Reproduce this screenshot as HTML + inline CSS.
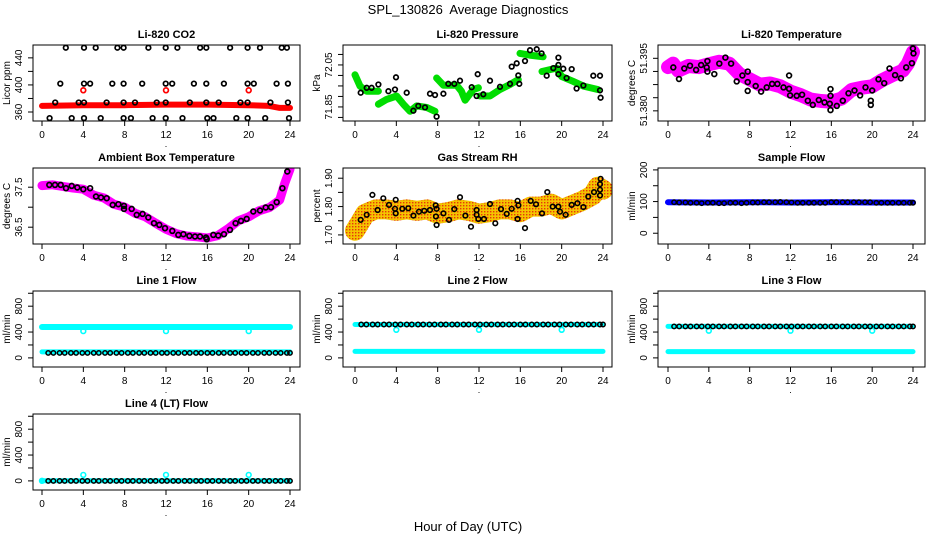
<!DOCTYPE html>
<html><head><meta charset="utf-8"><title>SPL_130826 Average Diagnostics</title>
<style>
html,body{margin:0;padding:0;background:#fff;}
svg{display:block;font-family:"Liberation Sans",Arial,sans-serif;}
</style></head>
<body>
<svg id="chart" width="936" height="540" viewBox="0 0 936 540" xmlns="http://www.w3.org/2000/svg">
<defs>
<pattern id="rhpat" width="3" height="3" patternUnits="userSpaceOnUse"><rect width="3" height="3" fill="#f4c400"/><rect x="1" y="1" width="1.4" height="1.4" fill="#e8360a"/></pattern>
</defs>
<text x="468" y="14" text-anchor="middle" font-size="13">SPL_130826&#160; Average Diagnostics</text>
<text x="468" y="531" text-anchor="middle" font-size="13">Hour of Day (UTC)</text>
<g id="panels"></g>
</svg>
<script>
// ---------- DATA ----------
const xTicks = [0,4,8,12,16,20,24];
const periodHours = [0.6,1.1,1.7,2.2,2.8,3.3,3.9,4.4,5.0,5.5,6.1,6.6,7.2,7.7,8.3,8.8,9.4,9.9,10.5,11.0,11.6,12.1,12.7,13.2,13.8,14.3,14.9,15.4,16.0,16.5,17.1,17.6,18.2,18.7,19.3,19.8,20.4,20.9,21.5,22.0,22.6,23.1,23.7,24.0];

// Li-820 CO2
const co2RedHours = [0,4,8,12,16,20,22,23,24];
const co2RedValues = [369,370,370,371,371,370,369,366,366];
const co2RedPtHours = [4,12,20];
const co2RedPtValues = [392,392,392];
const co2BlackHours = [2.3,4.06,5.2,7.3,7.9,10.3,11.97,13.1,15.3,15.9,18.2,19.9,21.1,23.2,23.7,
 1.77,4.06,4.65,6.8,7.9,9.7,11.97,12.6,14.7,15.9,17.6,19.9,20.5,22.7,23.8,
 1.28,3.55,4.06,6.25,7.9,9.0,11.1,11.97,14.3,15.9,17.1,19.2,19.9,22.1,23.8,
 0.74,2.87,4.06,5.68,7.9,8.6,10.7,11.97,13.6,16.0,16.6,18.8,19.9,21.6,23.9];
const co2BlackValues = [455,455,455,455,455,455,455,455,455,455,455,455,455,455,455,
 402,402,402,402,402,402,402,402,402,402,402,402,402,402,402,
 374,374,374,374,374,374,374,374,374,374,374,374,374,374,374,
 351,351,351,351,351,351,351,351,351,351,351,351,351,351,351];

// Li-820 Pressure
const presGreenHours = [0,0.48,1.13,2.26,null,2.26,3.06,4.03,4.68,5.32,5.97,6.94,7.74,null,7.9,8.55,9.84,10.3,10.65,11.45,11.94,null,12.1,13.06,14.03,15.0,15.8,null,15.97,16.9,18.2,null,18.1,19.5,20.0,21.1,22.1,23.5];
const presGreenValues = [72.003,71.949,71.925,71.925,null,71.863,71.886,71.902,71.863,71.829,71.855,71.848,71.829,null,71.988,71.953,71.953,71.925,71.882,71.933,71.941,null,71.902,71.902,71.933,71.957,71.98,null,72.105,72.097,72.089,null,72.019,72.035,71.995,71.972,71.949,71.933];
const presBlackHours = [0.55,1.13,1.61,2.26,3.23,3.87,3.97,5.0,5.65,6.13,6.77,7.26,7.74,7.9,8.55,9.03,9.61,10.16,11.29,11.77,11.87,12.42,13.06,14.03,15.0,15.16,15.65,15.8,15.9,16.45,16.94,17.58,18.06,18.55,19.19,19.68,19.68,19.68,20.16,20.48,20.97,21.45,22.1,23.06,23.71,23.71,23.77];
const presBlackValues = [71.918,71.941,71.941,71.957,71.925,71.933,71.991,71.918,71.832,71.855,71.848,71.913,71.907,71.804,71.913,71.96,71.96,71.975,71.944,71.902,72.006,71.91,71.975,71.946,71.96,72.042,72.058,72.0,71.96,72.069,72.12,72.125,72.105,71.999,72.035,72.05,72.085,72.006,72.032,71.988,72.03,71.938,71.952,71.999,71.999,71.929,71.894];

// Li-820 Temperature
const ltMagHours = [0,0.5,1,2,3,4,5,6,7,8,9,10,11,12,13,14,15,16,17,18,19,20,21,22,23,23.5,24];
const ltMagValues = [51.3925,51.3935,51.3915,51.3928,51.3925,51.3933,51.394,51.3935,51.3905,51.389,51.3875,51.3878,51.387,51.3855,51.3845,51.3832,51.3828,51.3826,51.3835,51.386,51.3866,51.387,51.3888,51.3902,51.3915,51.3935,51.3968];
const ltBlackHours = [0.52,1.08,1.6,2.16,2.75,3.24,3.79,3.86,3.86,4.54,5.03,5.62,6.18,6.73,7.29,7.81,7.81,7.81,8.59,9.12,9.67,10.2,10.72,11.31,11.86,11.86,11.96,12.61,13.14,13.69,14.18,14.77,15.33,15.85,15.92,15.92,15.92,16.54,17.12,17.68,18.27,18.82,19.35,19.87,19.87,20.0,20.62,21.18,21.7,22.25,22.81,23.33,23.89,23.99,24.05];
const ltBlackValues = [51.3924,51.3891,51.3921,51.3929,51.3917,51.3931,51.3924,51.3942,51.3912,51.3905,51.3935,51.3952,51.3935,51.3884,51.3901,51.3912,51.3882,51.3857,51.3871,51.3855,51.3867,51.3877,51.3877,51.3867,51.3901,51.3863,51.3844,51.3843,51.3846,51.3829,51.3817,51.3831,51.3824,51.382,51.3862,51.3843,51.3802,51.3814,51.3829,51.385,51.3858,51.3844,51.3867,51.3829,51.3817,51.3858,51.389,51.3879,51.3921,51.3902,51.3893,51.3924,51.3936,51.3978,51.3964];

// Ambient Box Temperature
const ambMagHours = [0,1,2,3,4,5,6,7,8,9,10,11,12,13,14,15,16,17,18,19,20,21,22,23,23.5,24];
const ambMagValues = [37.54,37.56,37.52,37.48,37.45,37.3,37.23,37.07,37.0,36.85,36.76,36.6,36.45,36.34,36.28,36.26,36.23,36.29,36.46,36.66,36.76,36.91,36.99,37.18,37.6,37.95];
const ambBlackHours = [0.71,1.26,1.81,2.32,2.87,3.42,4.0,4.65,5.23,5.71,6.26,6.84,7.39,7.94,7.94,8.68,9.16,9.74,10.29,10.84,11.35,11.9,12.61,13.19,13.68,14.26,14.81,15.29,15.87,15.94,16.58,17.06,17.61,18.19,18.74,19.26,19.81,20.45,21.1,21.65,22.16,22.71,23.26,23.74];
const ambBlackValues = [37.558,37.558,37.558,37.475,37.533,37.492,37.45,37.475,37.267,37.242,37.225,37.058,37.075,37.033,36.958,36.958,36.808,36.833,36.742,36.6,36.558,36.475,36.408,36.308,36.325,36.283,36.267,36.267,36.242,36.2,36.308,36.292,36.325,36.433,36.6,36.658,36.708,36.892,36.917,36.992,37.0,37.125,37.475,37.892];

// Gas Stream RH
const rhBandHours = [0,0.5,1,2,3,4,5,6,7,8,9,10,11,12,13,14,15,16,17,18,19,20,21,22,23,23.5,24];
const rhBandValues = [1.715,1.745,1.775,1.79,1.79,1.785,1.79,1.785,1.79,1.775,1.78,1.79,1.785,1.775,1.78,1.79,1.79,1.78,1.80,1.80,1.81,1.79,1.805,1.82,1.84,1.87,1.86];
const rhBlackHours = [0.55,1.13,1.68,2.19,2.74,3.29,3.87,3.94,3.94,4.58,5.16,5.65,6.19,6.71,7.26,7.81,7.84,7.9,7.9,8.55,9.1,9.61,10.16,10.68,11.23,11.77,11.77,11.94,12.48,13.06,13.58,14.13,14.68,15.16,15.74,15.81,15.74,16.45,17.0,17.52,18.1,18.61,19.13,19.68,19.84,20.39,20.97,21.52,22.1,22.58,23.13,23.71,23.77,23.71,23.71];
const rhBlackValues = [1.753,1.771,1.841,1.788,1.829,1.806,1.792,1.824,1.776,1.792,1.794,1.768,1.782,1.785,1.788,1.804,1.765,1.735,1.792,1.776,1.753,1.791,1.833,1.768,1.729,1.788,1.771,1.756,1.756,1.809,1.741,1.791,1.774,1.792,1.82,1.804,1.756,1.724,1.82,1.808,1.776,1.851,1.8,1.8,1.782,1.771,1.806,1.812,1.798,1.835,1.851,1.839,1.898,1.879,1.859];

// Sample Flow
const sfBandHours = [0,4,8,12,16,20,24];
const sfBandValues = [98,97,98,97,98,97,97];
const sfBlackValues = [98,97,97,96,96,95,96,96,95,95,96,96,95,96,97,97,98,98,98,99,98,97,96,96,96,96,96,96,98,98,98,98,98,98,98,98,96,96,96,96,96,96,96,96];

// Line 1 Flow
const l1UpperHours = [0,24];
const l1UpperValues = [478,478];
const l1LowerHours = [0,24];
const l1LowerValues = [92,92];
const l1CyanPtHours = [4,12,20];
const l1CyanPtValues = [415,415,415];
const l1BlackValues = [77,77,77,77,77,77,77,77,77,77,77,77,77,77,77,77,77,77,77,77,77,77,77,77,77,77,77,77,77,77,77,77,77,77,77,77,77,77,77,77,77,77,77,77];

// Line 2 Flow
const l2UpperHours = [0,24];
const l2UpperValues = [517,517];
const l2LowerHours = [0,24];
const l2LowerValues = [100,100];
const l2CyanPtHours = [4,12,20];
const l2CyanPtValues = [435,435,435];
const l2BlackValues = [517,517,517,517,517,517,517,517,517,517,517,517,517,517,517,517,517,517,517,517,517,517,517,517,517,517,517,517,517,517,517,517,517,517,517,517,517,517,517,517,517,517,517,517];

// Line 3 Flow
const l3UpperHours = [0,24];
const l3UpperValues = [488,488];
const l3LowerHours = [0,24];
const l3LowerValues = [97,97];
const l3CyanPtHours = [4,12,20];
const l3CyanPtValues = [420,420,420];
const l3BlackValues = [488,488,488,488,488,488,488,488,488,488,488,488,488,488,488,488,488,488,488,488,488,488,488,488,488,488,488,488,488,488,488,488,488,488,488,488,488,488,488,488,488,488,488,488];

// Line 4 (LT) Flow
const l4BandHours = [0,24];
const l4BandValues = [2,2];
const l4CyanPtHours = [0,4,12,20];
const l4CyanPtValues = [2,92,92,92];
const l4BlackValues = [0,0,0,0,0,0,0,0,0,0,0,0,0,0,0,0,0,0,0,0,0,0,0,0,0,0,0,0,0,0,0,0,0,0,0,0,0,0,0,0,0,0,0,0];

// ---------- LAYOUT ----------
const NS = 'http://www.w3.org/2000/svg';
const COLS = [{L:33,R:300,x0:42,x24:290},{L:343,R:612,x0:355,x24:603},{L:658,R:925,x0:668,x24:913}];
const ROWS = [45,168,291,414];
const flowTicks = [0,200,400,600,800,1000];
const flowLabels = ['0','','400','','800',''];

function mk(tag, attrs, parent){
  const e = document.createElementNS(NS, tag);
  for (const k in attrs) e.setAttribute(k, attrs[k]);
  if (parent) parent.appendChild(e);
  return e;
}
function panel(name, title, ylab, col, row, ymin, ymax, yTicks, yLabels){
  const c = COLS[col], T = ROWS[row], B = T + 76;
  const p = {L:c.L, R:c.R, x0:c.x0, x24:c.x24, T:T, B:B, ymin:ymin, ymax:ymax};
  p.sx = h => p.x0 + h / 24 * (p.x24 - p.x0);
  p.sy = v => p.B - (v - ymin) / (ymax - ymin) * (p.B - p.T);
  const g = mk('g', {}, document.getElementById('panels'));
  
  
  p.g = g;
  const cp = mk('clipPath', {id: 'clip-' + name}, g);
  mk('rect', {x:p.L, y:p.T, width:p.R-p.L, height:B-T}, cp);
  p.plot = mk('g', {'clip-path': 'url(#clip-' + name + ')'}, g);
  
  
  const t = mk('text', {x:(p.L+p.R)/2, y:T-7, 'text-anchor':'middle', 'font-size':'11', 'font-weight':'bold'}, g);
  t.textContent = title;
  
  
  const yl = mk('text', {x:0, y:0, 'text-anchor':'middle', 'font-size':'10', transform:'translate(' + (p.L-23) + ',' + ((T+B)/2) + ') rotate(-90)'}, g);
  yl.textContent = ylab;
  
  
  // x axis
  const xa = mk('g', {stroke:'#000', 'stroke-width':'1'}, g);
  
  
  mk('line', {x1:p.sx(xTicks[0]), x2:p.sx(xTicks[xTicks.length-1]), y1:B, y2:B}, xa);
  xTicks.forEach(h => {
    mk('line', {x1:p.sx(h), x2:p.sx(h), y1:B, y2:B+5}, xa);
    const lt = mk('text', {x:p.sx(h), y:B+17, 'text-anchor':'middle', 'font-size':'10', stroke:'none', fill:'#000'}, xa);
    lt.textContent = String(h);
    
    
  });
  const dot = mk('text', {x:(p.x0+p.x24)/2, y:B+26, 'text-anchor':'middle', 'font-size':'9'}, g);
  dot.textContent = '.';
  
  
  // y axis
  const ya = mk('g', {stroke:'#000', 'stroke-width':'1'}, g);
  
  
  const yt = yTicks.filter(v => v >= ymin && v <= ymax);
  mk('line', {x1:p.L, x2:p.L, y1:p.sy(yt[0]), y2:p.sy(yt[yt.length-1])}, ya);
  yTicks.forEach((v, i) => {
    if (v < ymin || v > ymax) return;
    const y = p.sy(v);
    mk('line', {x1:p.L-5, x2:p.L, y1:y, y2:y}, ya);
    if (yLabels[i]) {
      const lt = mk('text', {x:0, y:0, 'text-anchor':'middle', 'font-size':'10', stroke:'none', fill:'#000', transform:'translate(' + (p.L-11) + ',' + y + ') rotate(-90)'}, ya);
      lt.textContent = yLabels[i];
      
      
    }
  });
  const box = mk('rect', {x:p.L, y:T, width:p.R-p.L, height:B-T, fill:'none', stroke:'#000', 'stroke-width':'1'}, g);
  
  
  return p;
}
function band(p, hours, values, color, width, label){
  let d = '', pen = false;
  hours.forEach((h, i) => {
    if (h === null || values[i] === null) { pen = false; return; }
    d += (pen ? 'L' : 'M') + p.sx(h).toFixed(1) + ',' + p.sy(values[i]).toFixed(1);
    pen = true;
  });
  const e = mk('path', {d:d, fill:'none', stroke:color, 'stroke-width':width, 'stroke-linecap':'round', 'stroke-linejoin':'round'}, p.plot);
  
  
}
function pts(p, hours, values, color, label, r, sw){
  const g = mk('g', {fill:'none', stroke:color, 'stroke-width':sw || 1.6}, p.plot);
  
  
  hours.forEach((h, i) => {
    const c = mk('circle', {cx:p.sx(h).toFixed(1), cy:p.sy(values[i]).toFixed(1), r:r || 2.3}, g);
    
    
  });
}

// Row 1
let p = panel('li820-co2', 'Li-820 CO2', 'Licor ppm', 0, 0, 346.7, 459, [360,380,400,420,440,460], ['360','','400','','440','']);
band(p, co2RedHours, co2RedValues, '#ff0000', 6, 'co2-red-band');
pts(p, co2RedPtHours, co2RedPtValues, '#ff0000', 'co2-red-point', 2.4, 1.7);
pts(p, co2BlackHours, co2BlackValues, '#000', 'co2-black-point', 2.3, 1.7);

p = panel('li820-pressure', 'Li-820 Pressure', 'kPa', 1, 0, 71.783, 72.145, [71.80,71.85,71.90,71.95,72.00,72.05,72.10], ['','71.85','','','','72.05','']);
band(p, presGreenHours, presGreenValues, '#00dd00', 7, 'pressure-green-band');
pts(p, presBlackHours, presBlackValues, '#000', 'pressure-black-point', 2.3, 1.7);

p = panel('li820-temperature', 'Li-820 Temperature', 'degrees C', 2, 0, 51.3771, 51.3988, [51.380,51.38375,51.3875,51.39125,51.395], ['51.380','','','','51.395']);
band(p, ltMagHours, ltMagValues, '#ff00ff', 14, 'li-temp-magenta-band');
pts(p, ltBlackHours, ltBlackValues, '#000', 'li-temp-black-point', 2.4, 1.7);

// Row 2
p = panel('ambient-box-temp', 'Ambient Box Temperature', 'degrees C', 0, 1, 36.08, 37.98, [36.5,37.0,37.5], ['36.5','','37.5']);
band(p, ambMagHours, ambMagValues, '#ff00ff', 9, 'ambient-magenta-band');
pts(p, ambBlackHours, ambBlackValues, '#000', 'ambient-black-point', 2.4, 1.7);

p = panel('gas-stream-rh', 'Gas Stream RH', 'percent', 1, 1, 1.668, 1.936, [1.70,1.75,1.80,1.85,1.90], ['1.70','','1.80','','1.90']);
band(p, rhBandHours, rhBandValues, 'url(#rhpat)', 20, 'rh-orange-band');
pts(p, rhBlackHours, rhBlackValues, '#000', 'rh-black-point', 2.3, 1.6);

p = panel('sample-flow', 'Sample Flow', 'ml/min', 2, 1, -34, 206, [0,50,100,150,200], ['0','','100','','200']);
band(p, sfBandHours, sfBandValues, '#0000ff', 6, 'sample-flow-blue-band');
pts(p, periodHours, sfBlackValues, '#000', 'sample-flow-black-point', 2.2, 1.5);

// Row 3
p = panel('line1-flow', 'Line 1 Flow', 'ml/min', 0, 2, -141, 1035, flowTicks, flowLabels);
band(p, l1UpperHours, l1UpperValues, '#00ffff', 6, 'line1-upper-cyan-band');
band(p, l1LowerHours, l1LowerValues, '#00ffff', 5, 'line1-lower-cyan-band');
pts(p, l1CyanPtHours, l1CyanPtValues, '#00ffff', 'line1-cyan-point', 2.4, 1.6);
pts(p, periodHours, l1BlackValues, '#000', 'line1-black-point', 2.2, 1.5);

p = panel('line2-flow', 'Line 2 Flow', 'ml/min', 1, 2, -141, 1035, flowTicks, flowLabels);
band(p, l2UpperHours, l2UpperValues, '#00ffff', 5, 'line2-upper-cyan-band');
band(p, l2LowerHours, l2LowerValues, '#00ffff', 5, 'line2-lower-cyan-band');
pts(p, l2CyanPtHours, l2CyanPtValues, '#00ffff', 'line2-cyan-point', 2.4, 1.6);
pts(p, periodHours, l2BlackValues, '#000', 'line2-black-point', 2.2, 1.5);

p = panel('line3-flow', 'Line 3 Flow', 'ml/min', 2, 2, -141, 1035, flowTicks, flowLabels);
band(p, l3UpperHours, l3UpperValues, '#00ffff', 5, 'line3-upper-cyan-band');
band(p, l3LowerHours, l3LowerValues, '#00ffff', 5, 'line3-lower-cyan-band');
pts(p, l3CyanPtHours, l3CyanPtValues, '#00ffff', 'line3-cyan-point', 2.4, 1.6);
pts(p, periodHours, l3BlackValues, '#000', 'line3-black-point', 2.2, 1.5);

// Row 4
p = panel('line4-lt-flow', 'Line 4 (LT) Flow', 'ml/min', 0, 3, -141, 1035, flowTicks, flowLabels);
band(p, l4BandHours, l4BandValues, '#00ffff', 5, 'line4-cyan-band');
pts(p, l4CyanPtHours, l4CyanPtValues, '#00ffff', 'line4-cyan-point', 2.4, 1.6);
pts(p, periodHours, l4BlackValues, '#000', 'line4-black-point', 2.2, 1.5);
</script>
</body></html>
